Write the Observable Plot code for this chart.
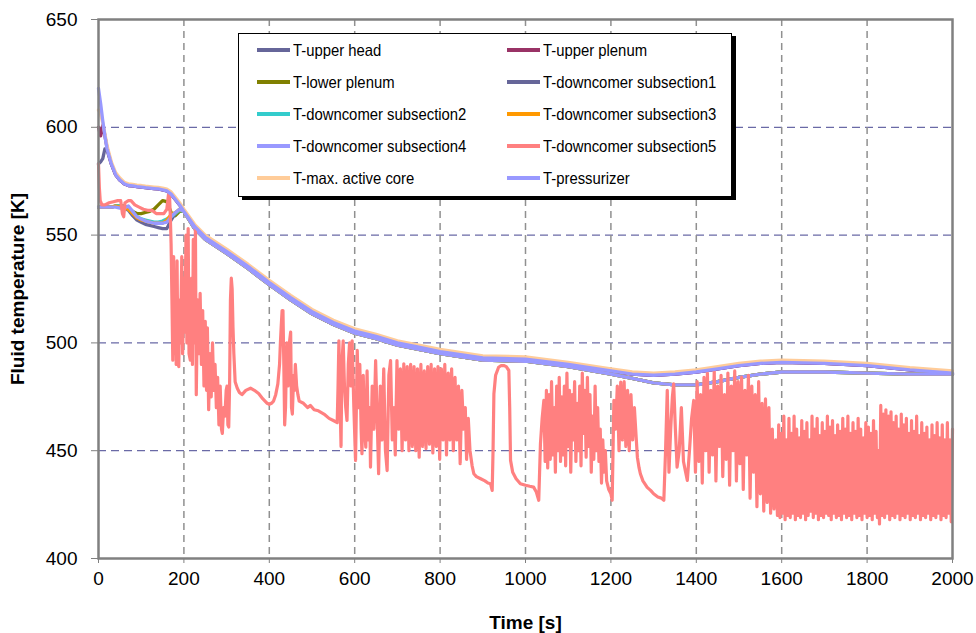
<!DOCTYPE html>
<html><head><meta charset="utf-8">
<script src="https://cdn.jsdelivr.net/npm/d3@7"></script>
<script src="https://cdn.jsdelivr.net/npm/@observablehq/plot@0.6"></script>
<style>
body{margin:0;background:#fff;font-family:"Liberation Sans",Arial,sans-serif;}
#wrap{position:relative;width:976px;height:633px;overflow:hidden;}
#legend{position:absolute;left:238px;top:33px;width:494px;height:164px;border:1px solid #000;background:#fff;box-shadow:4px 3px 0 #000;box-sizing:border-box;}
.item{position:absolute;display:flex;align-items:center;font-size:16.5px;height:20px;white-space:nowrap;color:#000;}
.item .sw{width:33px;height:3.5px;margin-right:3px;}
.item .tx{display:inline-block;transform:scaleX(0.9);transform-origin:left center;}
</style></head><body>
<div id="wrap"><div id="chart"></div><div id="legend"></div></div>
<script>
const xTicks = [0,200,400,600,800,1000,1200,1400,1600,1800,2000];
const yTicks = [400,450,500,550,600,650];
const seriesNames = ["T-upper head","T-upper plenum","T-lower plenum","T-downcomer subsection1","T-downcomer subsection2","T-downcomer subsection3","T-downcomer subsection4","T-downcomer subsection5","T-max. active core","T-pressurizer"];
const seriesColors = ["#666699","#993366","#808000","#666699","#33CCCC","#FF9900","#9999FF","#FF8080","#FFCC99","#9999FF"];

const timeEarly = [0,5,10,15,20,30,40,50,60,70,80,90,100,110,120,130,140,150,160,170,180,190];
const timeLate = [200,225,250,300,350,400,450,500,550,600,650,700,750,800,900,1000,1100,1200,1250,1300,1350,1400,1450,1500,1550,1600,1700,1800,1900,2000];

const earlyUpperHead = [583,584,585.5,590,589.5,583,578,575.5,573.8,573,572.8,572.5,572.3,572,571.8,571.6,571.4,571,570.5,569,566.5,564];
const earlyUpperPlenum = [600,596,601,596,590.5,583,578,575.5,573.8,573,572.8,572.5,572.3,572,571.8,571.6,571.4,571,570.5,569,566.5,564];
const earlyLowerPlenum = [563,563,563,563,563,563,563.5,563.5,563.5,562.5,561,560,560,560.5,561,562,564,566,565.5,560.5,559,561];
const earlyDc1 = [563,563,563,563,563,563,563.5,563,562.5,561.5,559,557,556,555,554.5,554,553.5,553,553,557,560,562];
const earlyDc2 = [563,563,563,563,563,563,563.5,563.5,563,562,560.5,558.5,557.5,557,556.5,556,556,556.5,557.5,558.5,560,561.5];
const earlyDc3 = [563,563,563,563,563,563,563.5,563,562.5,562,560,558,557,556.5,556,555.5,555.5,555.5,557,559.5,560.5,562];
const earlyDc4 = [563,563,563,563,563,563,563,562.5,562.5,563.5,561,558.5,557.5,556.5,556,555.5,555.5,555.5,556,558.5,560.5,562];
const earlyCore = [608,606,602,597,591.5,584,579,576.5,574.5,573.8,573.5,573.2,573,572.7,572.5,572.3,572.1,571.8,571.3,570,567.5,565];
const earlyPressurizer = [618,611,603,596,590,583,578,575.5,573.8,573,572.8,572.5,572.3,572,571.8,571.6,571.4,571,570.5,569,566.5,564];

const lateUpper = [561,554,549,542.5,535.5,528,521,514.5,509.5,505.5,503,500,498,496,493,492.5,490,487,485.5,485,485.5,486.5,488,489.5,490.5,491,490.5,489.5,487.5,486];
const lateLower = [561,553,548,541.5,534.5,527,520,513.5,508.5,504.5,502,499,497,495,492,491.5,489,485.5,483.5,481.5,480.5,480.5,482,484,485.5,486.5,486.5,486,485.5,485.5];
const lateCore = [562,555,550,543.5,536.5,529,522,515.5,510.5,506.5,504,501,499,497,494,493.5,491,488,486.5,486,486.5,487.5,489,490.5,491.5,492,491.5,490.5,488.5,487];

const dc5Pairs = [
[0,583],[2,572],[4,566],[8,564],[15,564],[25,565],[35,565.5],[45,566],[52,566],[56,560],[59,558.5],[62,565],[70,566],[76,566],[85,564],[95,563],[105,562],[115,561.5],[125,561.5],[135,560],[145,560],[153,560],[160,562],[164,569],[166,570],[168,560],
[170,546],[172,520],[174,492],[176,540],[178,495],[180,532],[182,490],[184,538],[186,492],[188,489],[190,520],[192,500],[195,540],[197,495],[200,530],[202,505],[205,550],[207,500],[210,553],[212,495],[215,492],[218,530],[220,490],[222,548],[225,500],[227,553],[229,476],[232,520],[235,495],[238,523],[241,490],[244,515],[247,480],[250,510],[253,478],[255,507],[258,469],[261,495],[264,475],[267,500],[270,478],[273,490],[276,470],[279,484],[282,462],[285,480],[288,460],[290,458],[293,470],[296,466],[299,478],[301,480],[303,462],[305,461],[307,480],[309,520],[311,530],[313,525],[315,507],[317,495],[320,482],[325,479],[330,477],[336,476],[345,478],[356,479],[365,478],[375,476.5],[385,474],[395,472],[400,471.5],[405,472],[410,473],[415,476],[420,481],[424,490],[426,500],[428,508],[430,515],[432,515],[434,490],[436,462],[438,470],[441,500],[444,480],[447,500],[450,505],[452,470],[454,467],[457,485],[459,478],[461,490],[464,480],[467,476],[470,473],[480,472],[490,470],[496,471],[505,469],[515,468.5],[528,467],[540,465],[550,464],[559,463],
[561,480],[563,501],[566,470],[568,452],[570,490],[573,501],[576,480],[579,470],[582,464],[585,490],[588,500],[591,480],[594,501],[598,470],[602,445.5],[606,496.5],[609,470],[612,490],[615,460],[617,448.6],[620,485],[623,460],[626,451.6],[629,487],[632,455],[635,470],[637,442.4],[641,480],[645,460],[649,491.8],[652,470],[656,439.3],[660,480],[664,455],[668,488],[672,450],[676,440.8],[680,485],[684,491.8],[688,455],[692,470],[695,448],[699,491.8],[703,460],[707,488],[711,450],[715,490.3],[719,455],[723,489],[727,450],[731,490],[735,452],[739,489],[743,450],[747,488],[751,447],[755,490],[759,452],[763,487],[767,451],[771,489],[775,453],[779,490],[783,449],[787,488],[791,452],[795,489],[799,446],[803,488],[807,455],[811,490],[815,448],[819,486],[823,455],[827,488],[831,450],[835,484],[839,455],[843,480],[847,444],[851,478],[855,460],[859,470],[862,446],[866,465],[870,450],[875,443],[879,439.3],[885,438],[895,437],[905,436],[912,435],[918,434.7],[922,431.6],[924,450],[926,476.4],[930,485],[937,488.7],[943,489.5],[949,489.5],[955,489],[961,487.2],[963,470],[965,445.5],[970,440],[978,437],[988,434.7],[1000,434],[1010,433.5],[1019,433.1],[1025,431],[1031,427],[1033,440],[1035,453.2],[1039,465],[1043,473.3],
[1046,445],[1049,478],[1052,442],[1055,476],[1058,446],[1061,482],[1064,448],[1067,470],[1070,440],[1073,480],[1076,450],[1079,484],[1082,445],[1085,475],[1088,448],[1091,480],[1094,443],[1097,486],[1100,452],[1103,478],[1106,440],[1109,476],[1112,455],[1115,482],[1118,445],[1121,472],[1124,450],[1127,480],[1130,443],[1133,486],[1136,458],[1139,478],[1142,447],[1145,484],[1148,452],[1151,476],[1154,440],[1157,466],[1160,446],[1163,480],[1166,450],[1169,470],[1172,445],[1175,460],[1178,435],[1181,455],[1184,440],[1187,450],[1190,436],[1195,432],[1200,430],[1203,427],[1205,450],[1207,473.3],[1211,460],[1215,480],[1219,450],[1223,481.8],[1227,455],[1231,482],[1235,452],[1239,478],[1243,450],[1247,476],[1251,455],[1255,470],[1258,460],[1262,447],[1266,442],[1269,439.3],[1275,436],[1285,433],[1293,431.6],[1300,430],[1310,428.5],[1318,428],[1324,427],[1328,450],[1332,478],[1336,440],[1340,460],[1344,475],[1347,481],[1351,460],[1355,442.4],[1360,450],[1365,470],[1370,445],[1375,440],[1379,436.2],[1384,450],[1389,465],[1394,473.3],
[1398,440],[1402,482],[1406,445],[1410,476],[1414,435],[1418,484],[1422,450],[1426,486],[1430,440],[1434,478],[1438,448],[1442,487],[1446,436],[1450,480],[1454,452],[1458,485],[1462,438],[1466,476],[1470,446],[1474,486],[1478,434],[1482,480],[1486,450],[1490,487],[1494,436],[1498,482],[1502,444],[1506,484],[1510,432],[1514,478],[1518,448],[1522,485],[1526,428],[1530,480],[1534,440],[1538,476],[1542,424],[1546,482],[1550,430],[1554,472],[1558,422],[1562,474],[1566,426],[1570,470],[1574,421],[1578,460],[1582,423],[1586,455],[1590,420],
[1593,462],[1596,419],[1599,458],[1602,421],[1605,466],[1608,418],[1611,455],[1614,420],[1617,465],[1620,419],[1623,458],[1626,421],[1629,466],[1632,418],[1635,460],[1638,420],[1641,456],[1644,419],[1647,464],[1650,421],[1653,459],[1656,418],[1659,463],[1662,420],[1665,455],[1668,422],[1671,466],[1674,419],[1677,460],[1680,421],[1683,465],[1686,418],[1689,457],[1692,420],[1695,463],[1698,419],[1701,459],[1704,421],[1707,466],[1710,420],[1713,461],[1716,418],[1719,464],[1722,421],[1725,457],[1728,419],[1731,462],[1734,420],[1737,459],[1740,418],[1743,465],[1746,421],[1749,460],[1752,419],[1755,466],[1758,420],[1761,458],[1764,418],[1767,463],[1770,421],[1773,459],[1776,419],[1779,465],[1782,420],[1785,460],[1788,418],[1791,456],[1794,421],[1797,463],[1800,419],[1803,461],[1806,420],[1809,458],[1812,418],[1815,464],[1818,421],[1821,459],[1824,419],[1827,450],[1829,416],[1832,471],[1835,420],[1838,467],[1841,419],[1844,469],[1847,421],[1850,466],[1853,418],[1856,468],[1859,420],[1862,463],[1865,419],[1868,466],[1871,421],[1874,460],[1877,418],[1880,467],[1883,420],[1886,462],[1889,419],[1892,465],[1895,421],[1898,458],[1901,418],[1904,464],[1907,420],[1910,459],[1913,419],[1916,466],[1919,421],[1922,457],[1925,418],[1928,463],[1931,420],[1934,458],[1937,419],[1940,461],[1943,421],[1946,455],[1949,418],[1952,462],[1955,420],[1958,457],[1961,419],[1964,463],[1967,421],[1970,456],[1973,418],[1976,462],[1979,420],[1982,455],[1985,419],[1988,463],[1991,421],[1994,455],[1997,417],[2000,460]
];

function build(early, late) {
  return timeEarly.map((t, i) => ({t, v: early[i]})).concat(timeLate.map((t, i) => ({t, v: late[i]})));
}
const seriesData = [
  build(earlyUpperHead, lateUpper),
  build(earlyUpperPlenum, lateUpper),
  build(earlyLowerPlenum, lateLower),
  build(earlyDc1, lateLower),
  build(earlyDc2, lateLower),
  build(earlyDc3, lateLower),
  build(earlyDc4, lateLower),
  dc5Pairs.map(([t, v]) => ({t, v})),
  build(earlyCore, lateCore),
  build(earlyPressurizer, lateUpper)
];

const lineMarks = seriesData.map((d, i) => Plot.line(d, {x: "t", y: "v", stroke: seriesColors[i], strokeWidth: i === 7 ? 3.2 : 3.3, strokeLinejoin: "round", strokeLinecap: "round"}));

const chart = Plot.plot({
  width: 976, height: 633,
  marginLeft: 98, marginRight: 24, marginTop: 19, marginBottom: 75,
  style: {fontSize: "19px", fontFamily: "'Liberation Sans', Arial, sans-serif", color: "#000", background: "#fff"},
  x: {domain: [0, 2000]},
  y: {domain: [400, 650]},
  marks: [
    Plot.gridY(yTicks.slice(1, -1), {stroke: "#6a6aa6", strokeOpacity: 1, strokeWidth: 1.2, strokeDasharray: "8,5"}),
    Plot.gridX(xTicks.slice(1, -1), {stroke: "#909090", strokeOpacity: 1, strokeWidth: 1.5, strokeDasharray: "7,5"}),
    ...lineMarks,
    Plot.frame({stroke: "#808080", strokeWidth: 2.5}),
    Plot.axisX(xTicks, {tickSize: 5, tickPadding: 8, tickFormat: "d", stroke: "#808080", label: "Time [s]", labelAnchor: "center", labelArrow: "none", labelOffset: 70}),
    Plot.axisY(yTicks, {tickSize: 7, tickPadding: 14, tickFormat: "d", stroke: "#808080", label: "Fluid temperature [K]", labelAnchor: "center", labelArrow: "none", labelOffset: 88})
  ]
});
document.getElementById("chart").appendChild(chart);
d3.select(chart).selectAll('g[aria-label="x-axis label"] text, g[aria-label="y-axis label"] text').attr("font-weight", "bold");

const legend = document.getElementById("legend");
seriesNames.forEach((name, i) => {
  const row = Math.floor(i / 2), col = i % 2;
  const it = document.createElement("div");
  it.className = "item";
  it.style.left = (col === 0 ? 18 : 268) + "px";
  it.style.top = (6 + row * 32) + "px";
  const sw = document.createElement("span");
  sw.className = "sw";
  sw.style.background = seriesColors[i];
  const tx = document.createElement("span");
  tx.className = "tx";
  tx.textContent = name;
  it.appendChild(sw); it.appendChild(tx);
  legend.appendChild(it);
});
</script></body></html>
